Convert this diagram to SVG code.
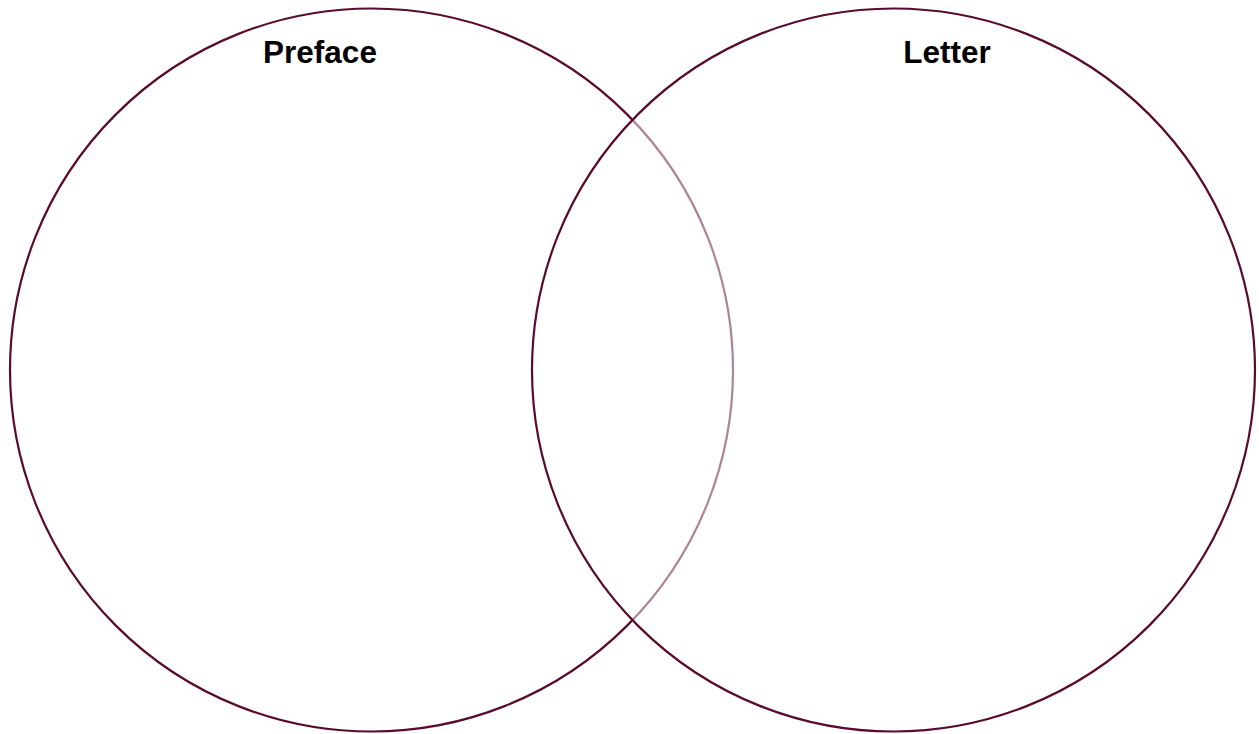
<svg xmlns="http://www.w3.org/2000/svg" width="1259" height="734" viewBox="0 0 1259 734">
<style>
.c{stroke:#5a0a2c;stroke-width:2.2;}
.t{font-family:"Liberation Sans",Arial,sans-serif;font-weight:bold;font-size:31.5px;fill:#000;text-anchor:middle;}
</style>
<rect width="1259" height="734" fill="#fff"/>
<g id="preface">
<circle class="c" cx="371.5" cy="370" r="361.5" fill="#fff"/>
<text class="t" x="320" y="63">Preface</text>
</g>
<g id="letter">
<circle class="c" cx="893.5" cy="370" r="361.5" fill="#fff" fill-opacity="0.5"/>
<text class="t" x="947" y="63">Letter</text>
</g>
<g id="connectors"/>
</svg>
